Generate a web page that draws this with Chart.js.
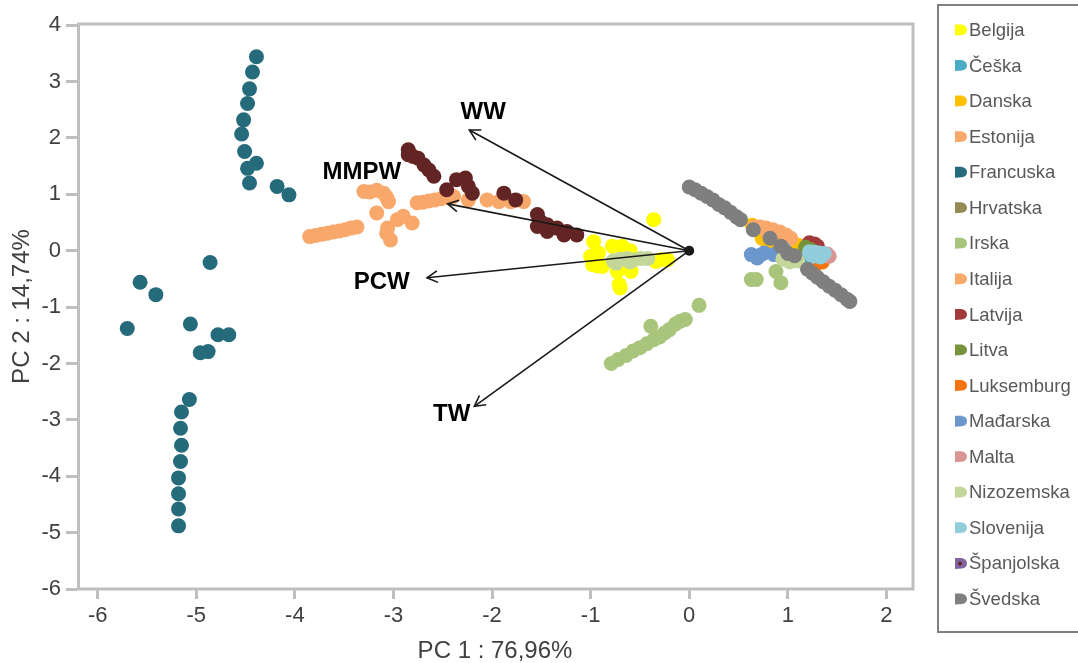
<!DOCTYPE html>
<html>
<head>
<meta charset="utf-8">
<script src="https://cdn.jsdelivr.net/npm/chart.js@4"></script>
<style>
  html, body { margin: 0; padding: 0; background: #fff; }
  #wrap { width: 1078px; height: 663px; }
</style>
</head>
<body>
<div id="wrap"><canvas id="chartPca"></canvas></div>
<script>
// tick labels
var xTicks = [-6, -5, -4, -3, -2, -1, 0, 1, 2];
var yTicks = [-6, -5, -4, -3, -2, -1, 0, 1, 2, 3, 4];

// scores per country, [PC1, PC2]
var belgija = [[-0.36,0.55],[-0.97,0.16],[-0.92,-0.04],[-0.98,-0.25],[-0.88,-0.28],[-0.78,0.08],[-0.68,0.08],[-0.73,-0.37],[-0.59,-0.37],[-0.71,-0.60],[-0.29,-0.16],[-0.22,-0.16],[-0.34,-0.19],[-1.0,-0.10],[-0.70,-0.25],[-0.70,-0.66],[-0.93,-0.27],[-0.60,0.0]];
var ceska = [[1.15,-0.19],[1.20,-0.20]];
var danska = [[0.64,0.45],[0.74,0.22],[0.80,0.12],[0.90,0.02],[1.10,0.10]];
var estonija = [[0.66,0.42],[0.72,0.42],[0.78,0.40],[0.85,0.37],[0.92,0.33],[0.98,0.28],[1.03,0.22],[0.80,0.30],[0.90,0.22]];
var francuska = [[-4.39,3.44],[-4.43,3.17],[-4.46,2.87],[-4.48,2.61],[-4.52,2.32],[-4.54,2.07],[-4.51,1.76],[-4.39,1.55],[-4.48,1.46],[-4.46,1.20],[-4.18,1.14],[-4.06,0.99],
    [-4.86,-0.21],[-5.57,-0.56],[-5.41,-0.78],[-5.70,-1.38],[-5.06,-1.30],[-4.78,-1.49],[-4.67,-1.49],[-4.96,-1.81],[-4.88,-1.79],
    [-5.07,-2.64],[-5.15,-2.86],[-5.16,-3.15],[-5.15,-3.45],[-5.16,-3.74],[-5.18,-4.03],[-5.18,-4.31],[-5.18,-4.58],[-5.18,-4.88]];
var hrvatska = [[1.20,0.10],[1.25,0.06]];
var irska = [[-0.79,-2.0],[-0.72,-1.93],[-0.64,-1.86],[-0.57,-1.78],[-0.50,-1.72],[-0.43,-1.65],[-0.36,-1.58],[-0.30,-1.53],[-0.25,-1.46],[-0.39,-1.34],[-0.20,-1.40],[-0.14,-1.30],[-0.09,-1.25],[-0.04,-1.22],[0.10,-0.97],[0.63,-0.51],[0.68,-0.51],[0.88,-0.37],[0.93,-0.57]];
var italija = [[-3.85,0.25],[-3.79,0.27],[-3.73,0.29],[-3.67,0.31],[-3.61,0.33],[-3.55,0.35],[-3.49,0.37],[-3.43,0.40],[-3.37,0.42],
    [-3.30,1.05],[-3.24,1.04],[-3.17,1.07],[-3.10,1.02],[-3.07,0.95],[-3.05,0.87],[-3.17,0.67],
    [-3.07,0.31],[-3.03,0.19],[-3.06,0.40],[-2.96,0.55],[-2.90,0.61],[-2.81,0.49],
    [-2.76,0.85],[-2.70,0.86],[-2.64,0.88],[-2.58,0.90],[-2.52,0.92],[-2.45,0.94],[-2.39,0.96],[-2.24,0.90],[-2.05,0.90],[-1.93,0.87],[-1.81,0.87],[-1.68,0.87]];
var latvija = [[1.22,0.14],[1.27,0.12],[1.30,0.08]];
var litva = [[1.18,0.06],[1.23,0.02],[1.28,-0.03]];
var luksemburg = [[1.30,-0.22],[1.35,-0.20]];
var madarska = [[0.63,-0.07],[0.69,-0.13],[0.76,-0.04],[0.86,-0.07],[0.96,0.02],[0.72,-0.08]];
var malta = [[1.40,-0.06],[1.42,-0.10]];
var nizozemska = [[-0.77,-0.18],[-0.70,-0.15],[-0.63,-0.14],[-0.56,-0.16],[-0.49,-0.14],[-0.42,-0.14],[-0.74,-0.22],[-0.60,-0.20],[0.95,-0.15],[1.02,-0.20],[1.10,-0.18]];
var slovenija = [[1.22,-0.02],[1.27,-0.03],[1.32,-0.04],[1.37,-0.05],[1.25,-0.10],[1.33,-0.11]];
var spanjolska = [[-2.85,1.79],[-2.85,1.70],[-2.80,1.67],[-2.75,1.64],[-2.69,1.52],[-2.64,1.43],[-2.59,1.32],[-2.46,1.08],[-2.36,1.26],[-2.27,1.29],[-2.24,1.14],[-2.20,1.02],[-1.88,1.02],[-1.76,0.90],[-1.54,0.64],[-1.51,0.52],[-1.44,0.46],[-1.34,0.40],[-1.24,0.34],[-1.14,0.28],[-1.54,0.43],[-1.44,0.34],[-1.27,0.28]];
var svedska = [[0.0,1.13],[0.06,1.08],[0.12,1.02],[0.18,0.96],[0.24,0.90],[0.30,0.82],[0.36,0.76],[0.42,0.68],[0.48,0.60],[0.52,0.55],[0.65,0.37],[0.82,0.22],[0.93,0.08],[1.0,-0.05],[1.07,-0.09],[1.20,-0.33],[1.25,-0.40],[1.30,-0.47],[1.36,-0.55],[1.42,-0.63],[1.48,-0.70],[1.54,-0.78],[1.60,-0.86],[1.63,-0.90]];

var countries = ["Belgija", "Češka", "Danska", "Estonija", "Francuska", "Hrvatska", "Irska", "Italija", "Latvija", "Litva", "Luksemburg", "Mađarska", "Malta", "Nizozemska", "Slovenija", "Španjolska", "Švedska"];
var countryData = [belgija, ceska, danska, estonija, francuska, hrvatska, irska, italija, latvija, litva, luksemburg, madarska, malta, nizozemska, slovenija, spanjolska, svedska];
var countryColors = ["#FFFF00", "#4BACC6", "#FFC000", "#F9A86B", "#256B7B", "#948A54", "#A9C57C", "#F9A86B", "#A33A3A", "#77933C", "#F5740F", "#6C97CD", "#DA9694", "#C4D79B", "#92CDDC", "#632523", "#7F7F7F"];

// loading vectors
var arrowNames = ["WW", "MMPW", "PCW", "TW"];
var arrowX = [-2.23, -2.45, -2.66, -2.18];
var arrowY = [2.14, 0.83, -0.48, -2.76];
var arrowLabelX = [-2.09, -3.32, -3.12, -2.41];
var arrowLabelY = [2.46, 1.38, -0.57, -2.90];

var axisGrey = "#BFBFBF";
var textGrey = "#404040";

var datasets = [];
for (var i = 0; i < countries.length; i++) {
    datasets.push({
        label: countries[i],
        data: countryData[i].map(function (p) { return {x: p[0], y: p[1]}; }),
        backgroundColor: countryColors[i],
        borderColor: countryColors[i],
        borderWidth: 0,
        pointRadius: 7.5,
        pointStyle: 'circle',
        order: -i
    });
}
for (var j = 0; j < arrowNames.length; j++) {
    datasets.push({
        label: arrowNames[j],
        type: 'line',
        data: [{x: 0, y: 0}, {x: arrowX[j], y: arrowY[j]}],
        borderColor: '#1a1a1a',
        borderWidth: 1.6,
        pointRadius: 0,
        fill: false,
        order: -100
    });
}
datasets.push({
    label: 'origin',
    data: [{x: 0, y: 0}],
    backgroundColor: '#1a1a1a',
    borderWidth: 0,
    pointRadius: 5,
    order: -101
});

// box, arrow heads, arrow labels, legend
var pcaDecor = {
    id: 'pcaDecor',
    beforeDatasetsDraw: function (chart) {
        var ctx = chart.ctx, a = chart.chartArea;
        ctx.save();
        ctx.strokeStyle = axisGrey;
        ctx.lineWidth = 3;
        ctx.strokeRect(a.left + 1.5, a.top, a.right - a.left - 1.5, a.bottom - a.top);
        ctx.restore();
    },
    afterDatasetsDraw: function (chart) {
        var ctx = chart.ctx;
        var xs = chart.scales.x, ys = chart.scales.y;
        ctx.save();
        ctx.strokeStyle = '#1a1a1a';
        ctx.lineWidth = 1.6;
        for (var k = 0; k < arrowNames.length; k++) {
            var x0 = xs.getPixelForValue(0), y0 = ys.getPixelForValue(0);
            var x1 = xs.getPixelForValue(arrowX[k]), y1 = ys.getPixelForValue(arrowY[k]);
            var ang = Math.atan2(y0 - y1, x0 - x1);
            var len = 12, spread = 0.5;
            ctx.beginPath();
            ctx.moveTo(x1 + len * Math.cos(ang + spread), y1 + len * Math.sin(ang + spread));
            ctx.lineTo(x1, y1);
            ctx.lineTo(x1 + len * Math.cos(ang - spread), y1 + len * Math.sin(ang - spread));
            ctx.stroke();
        }
        ctx.fillStyle = '#000';
        ctx.font = 'bold 24px "Liberation Sans", Arial, sans-serif';
        ctx.textAlign = 'center';
        ctx.textBaseline = 'middle';
        for (var m = 0; m < arrowNames.length; m++) {
            ctx.fillText(arrowNames[m], xs.getPixelForValue(arrowLabelX[m]), ys.getPixelForValue(arrowLabelY[m]));
        }
        ctx.restore();
    },
    afterDraw: function (chart) {
        var ctx = chart.ctx;
        ctx.save();
        ctx.strokeStyle = '#808080';
        ctx.lineWidth = 2;
        ctx.strokeRect(938, 5, 200, 627);
        ctx.font = '18.5px "Liberation Sans", Arial, sans-serif';
        ctx.textBaseline = 'middle';
        ctx.textAlign = 'left';
        for (var n = 0; n < countries.length; n++) {
            var cy = 30 + n * 35.56;
            var col = countryColors[n];
            if (countries[n] === 'Španjolska') col = '#8064A2';
            ctx.fillStyle = col;
            ctx.beginPath();
            ctx.moveTo(955, cy - 5.5);
            ctx.lineTo(963, cy - 5.5);
            ctx.arc(962, cy, 5, -Math.PI / 2, Math.PI / 2);
            ctx.lineTo(955, cy + 5.5);
            ctx.closePath();
            ctx.fill();
            if (countries[n] === 'Španjolska') {
                ctx.fillStyle = '#632523';
                ctx.beginPath();
                ctx.arc(960, cy, 2, 0, Math.PI * 2);
                ctx.fill();
            }
            ctx.fillStyle = '#595959';
            ctx.fillText(countries[n], 969, cy + 1);
        }
        ctx.restore();
    }
};

var ctx = document.getElementById('chartPca');
var chart = new Chart(ctx, {
    type: 'scatter',
    data: { datasets: datasets },
    options: {
        responsive: true,
        maintainAspectRatio: false,
        animation: false,
        layout: { padding: { top: 24, right: 165, left: 0, bottom: 0 } },
        plugins: {
            legend: { display: false },
            tooltip: { enabled: false }
        },
        scales: {
            x: {
                type: 'linear',
                min: -6.21,
                max: 2.27,
                afterBuildTicks: function (scale) {
                    scale.ticks = xTicks.map(function (v) { return {value: v}; });
                },
                afterFit: function (scale) { scale.height = 74; },
                grid: { drawOnChartArea: false, drawTicks: true, tickLength: 10, tickWidth: 3, tickColor: axisGrey },
                border: { display: false },
                ticks: { color: textGrey, padding: 4, font: { size: 22, family: '"Liberation Sans", Arial, sans-serif' }, maxRotation: 0 },
                title: { display: true, text: 'PC 1 : 76,96%', color: textGrey, padding: { top: 0, bottom: 0 }, font: { size: 24, lineHeight: 1, family: '"Liberation Sans", Arial, sans-serif' } }
            },
            y: {
                type: 'linear',
                min: -6,
                max: 4.02,
                afterBuildTicks: function (scale) {
                    scale.ticks = yTicks.map(function (v) { return {value: v}; });
                },
                afterFit: function (scale) { scale.width = 77; },
                grid: { drawOnChartArea: false, drawTicks: true, tickLength: 11, tickWidth: 3, tickColor: axisGrey },
                border: { display: false },
                ticks: { color: textGrey, padding: 5, font: { size: 22, family: '"Liberation Sans", Arial, sans-serif' } },
                title: { display: true, text: 'PC 2 : 14,74%', color: textGrey, padding: { top: 10, bottom: 0 }, font: { size: 24, lineHeight: 1, family: '"Liberation Sans", Arial, sans-serif' } }
            }
        }
    },
    plugins: [pcaDecor]
});
</script>
</body>
</html>
